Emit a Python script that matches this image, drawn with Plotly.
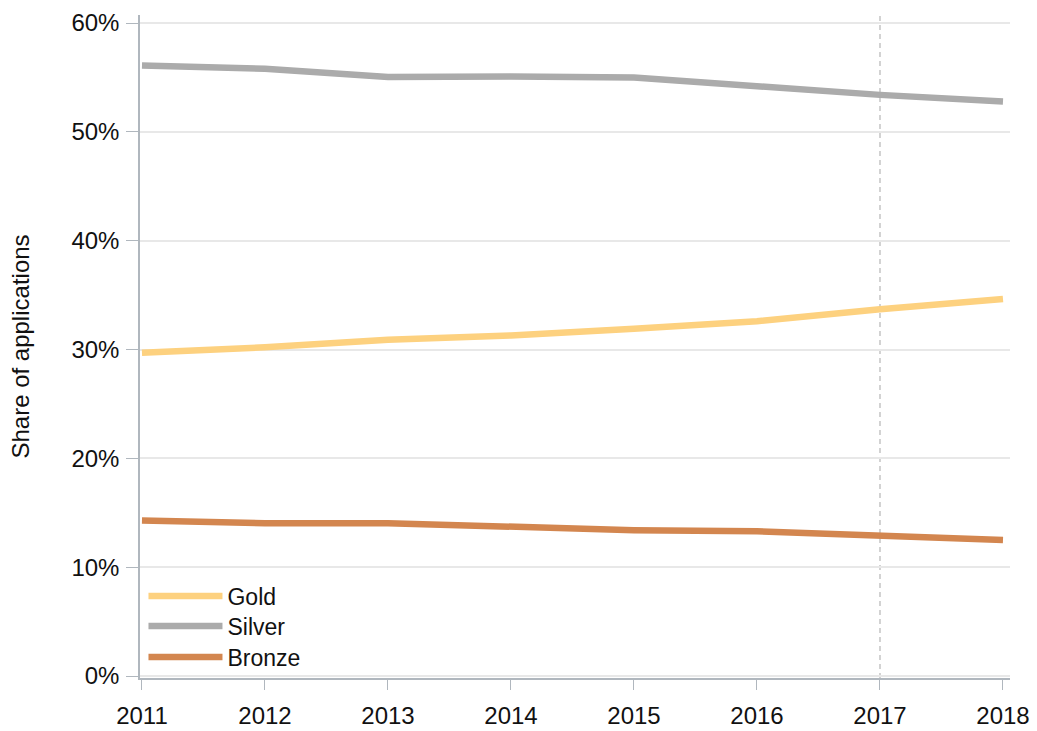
import plotly.graph_objects as go

years = [2011, 2012, 2013, 2014, 2015, 2016, 2017, 2018]
gold = [29.7, 30.2, 30.9, 31.3, 31.9, 32.6, 33.7, 34.65]
silver = [56.1, 55.8, 55.05, 55.1, 55.0, 54.2, 53.4, 52.8]
bronze = [14.3, 14.05, 14.05, 13.7, 13.4, 13.3, 12.95, 12.5]
yticks = [0, 10, 20, 30, 40, 50, 60]
ytick_labels = ["0%", "10%", "20%", "30%", "40%", "50%", "60%"]

series = [("Gold", gold, "#FDD17F"), ("Silver", silver, "#ABABAB"), ("Bronze", bronze, "#D3864F")]
legend_ids = ["legend", "legend2", "legend3"]
legend_rows_px = [596, 626, 657]

W, H = 1037, 731
ML, MR, MT, MB = 140, 27, 15, 53
plot_h = H - MT - MB

fig = go.Figure()
for (name, vals, col), lid in zip(series, legend_ids):
    fig.add_trace(go.Scatter(x=years, y=vals, mode="lines", name=name, legend=lid,
                             line=dict(color=col, width=6.5)))

fig.add_vline(x=2017, line=dict(color="#C4C4C4", width=1.5, dash="5px,4px"), layer="below")

legend_common = dict(x=0.004, xanchor="left", yanchor="middle",
                     bgcolor="rgba(0,0,0,0)", font=dict(size=23, color="#111111"),
                     itemwidth=74)
legends = {}
for lid, ypx in zip(legend_ids, legend_rows_px):
    legends[lid] = dict(legend_common, y=(H - MB - ypx) / plot_h)

fig.update_layout(
    width=W, height=H,
    margin=dict(l=ML, r=MR, t=MT, b=MB),
    paper_bgcolor="white", plot_bgcolor="white",
    font=dict(family="Liberation Sans, Arial, sans-serif", size=23, color="#111111"),
    showlegend=True,
    **legends,
)
fig.update_xaxes(range=[2010.984, 2018.057], tickmode="array", tickvals=years,
                 ticks="outside", ticklen=10, tickcolor="#B0B7BE", showgrid=False,
                 showline=True, linecolor="#B0B7BE", linewidth=1.5, zeroline=False,
                 ticklabelstandoff=5, tickfont=dict(size=24), automargin=False)
fig.update_yaxes(range=[-0.18, 60.74], tickmode="array", tickvals=yticks,
                 ticktext=ytick_labels, ticks="outside", ticklen=12, tickcolor="#B0B7BE",
                 showgrid=True, gridcolor="#E8E8E8", gridwidth=1.5,
                 showline=True, linecolor="#B0B7BE", linewidth=1.5, zeroline=False,
                 ticklabelstandoff=2, automargin=False,
                 title=dict(text="Share of applications", font=dict(size=24), standoff=35),
                 tickfont=dict(size=24))

fig.write_html("out.html", config={"displayModeBar": False},
               post_script="document.body.style.margin='0';document.body.style.overflow='hidden';")
